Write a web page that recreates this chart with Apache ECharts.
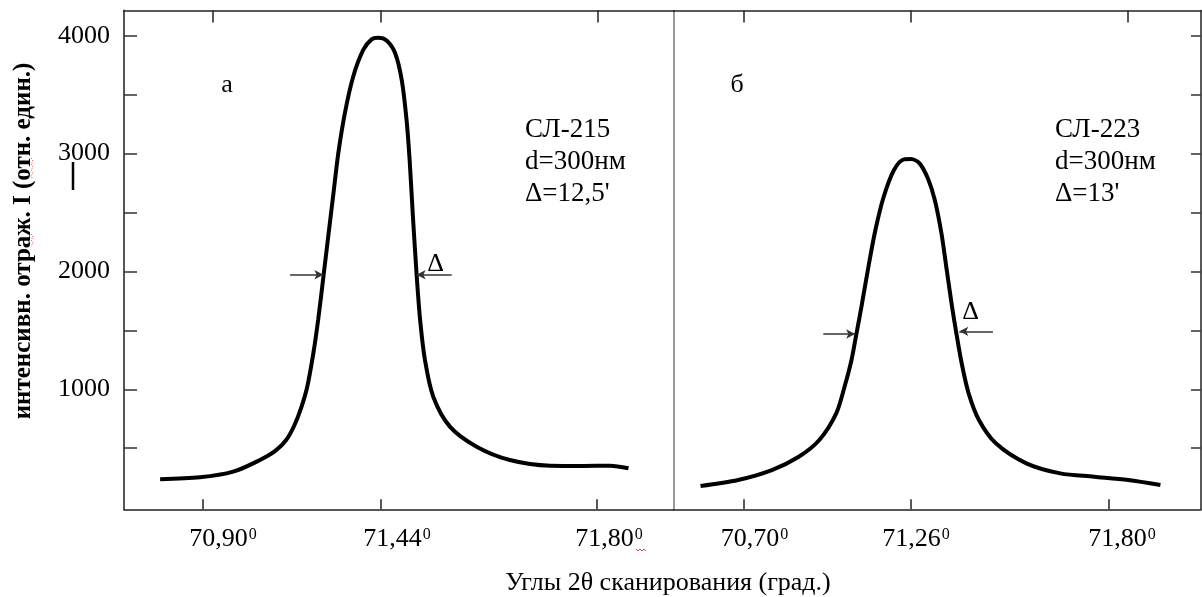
<!DOCTYPE html>
<html><head><meta charset="utf-8">
<script src="https://cdn.jsdelivr.net/npm/echarts@6/dist/echarts.min.js"></script>
<style>html,body{margin:0;padding:0;background:#fff}#c{width:1202px;height:597px}</style>
</head><body><div id="c"></div>
<script>
const FONT = '"Liberation Serif","Times New Roman",serif';

// ---- panel а (СЛ-215) ----
const xA = [70.802,70.893,70.969,71.030,71.065,71.090,71.108,71.124,71.138,71.152,71.163,71.175,71.186,71.198,71.209,71.224,71.243,71.266,71.285,71.300,71.320,71.339,71.354,71.365,71.372,71.380,71.388,71.396,71.407,71.426,71.464,71.525,71.601,71.693,71.769,71.830,71.872];
const yA = [237,253,301,400,477,570,689,841,1020,1305,1588,1955,2295,2663,3002,3342,3652,3879,3969,3983,3958,3851,3624,3285,2946,2436,1972,1588,1249,937,683,513,400,352,350,352,330];
// ---- panel б (СЛ-223) ----
const xB = [70.569,70.682,70.784,70.865,70.927,70.978,71.003,71.024,71.039,71.054,71.075,71.096,71.121,71.152,71.182,71.203,71.229,71.254,71.275,71.295,71.311,71.327,71.340,71.356,71.377,71.408,71.459,71.551,71.653,71.755,71.858,71.955];
const yB = [180,231,315,428,570,796,1022,1249,1475,1701,2040,2352,2634,2861,2951,2954,2917,2790,2606,2324,2012,1701,1475,1221,966,740,542,372,287,259,231,188];

// half-width arrows: [tail x, tip x, y]
const arrowsA = [[71.099,71.175,1972],[71.468,71.388,1972]];
const arrowsB = [[70.939,71.035,1469],[71.450,71.349,1492]];

// axis ticks / labels (the drawn scale is not uniform; positions follow the picture)
const xTicksA = [70.90, 71.3066, 71.80];
const xTopTicksA = [70.9228, 71.3066, 71.8023];
const xLabelPosA = [70.9457, 71.3432, 71.8274];
const xLabelsA = ['70,90','71,44','71,80'];
const xTicksB = [70.70, 71.2033, 71.80];
const xTopTicksB = [70.70, 71.2033, 71.8573];
const xLabelPosB = [70.7316, 71.2184, 71.8392];
const xLabelsB = ['70,70','71,26','71,80'];
const yTicks = [500,1000,1500,2000,2500,3000,3500,4000];
const yLabelVals = [1000,2000,3000,4000];

const Y_MIN = -18, Y_MAX = 4214;
const XA_MIN = 70.7195, XA_MAX = 71.9748;
const XB_MIN = 70.4875, XB_MAX = 72.0773;

function zip(xs, ys){ return xs.map((x,i)=>[x, ys[i]]); }
function nearest(arr, v){ let bi=0, bd=1e9; arr.forEach((a,i)=>{const d=Math.abs(a-v); if(d<bd){bd=d;bi=i;}}); return bi; }
function arrowLines(arr){ return arr.map(a=>[{coord:[a[0],a[2]]},{coord:[a[1],a[2]]}]); }

const richLbl = {
  n:{fontSize:26, fontFamily:FONT, color:'#000', lineHeight:26},
  s:{fontSize:16, fontFamily:FONT, color:'#000', lineHeight:16, verticalAlign:'top', padding:[0,0,0,1]}
};
const axisCol = '#222';
function bottomAxis(grid, min, max, ticks, lpos, labels){
  return {gridIndex:grid, type:'value', position:'bottom', min, max,
    axisLine:{onZero:false, lineStyle:{color:axisCol, width:1.5}},
    axisTick:{inside:true, length:10, customValues:ticks, lineStyle:{color:axisCol, width:1.5}},
    axisLabel:{customValues:lpos, margin:17, formatter:v=>'{n|'+labels[nearest(lpos,v)]+'}{s|0}', rich:richLbl},
    splitLine:{show:false}};
}
function topAxis(grid, min, max, ticks){
  return {gridIndex:grid, type:'value', position:'top', min, max,
    axisLine:{onZero:false, lineStyle:{color:axisCol, width:1.5}},
    axisTick:{inside:true, length:12, customValues:ticks, lineStyle:{color:axisCol, width:1.5}},
    axisLabel:{show:false}, splitLine:{show:false}};
}

const chart = echarts.init(document.getElementById('c'), null, {renderer:'canvas'});
const option = {
  animation:false,
  backgroundColor:'#fff',
  grid:[
    {left:124, top:10.5, width:549.5, height:498.8, outerBoundsMode:'none'},
    {left:673.5, top:10.5, width:527.5, height:498.8, outerBoundsMode:'none'}
  ],
  xAxis:[
    bottomAxis(0, XA_MIN, XA_MAX, xTicksA, xLabelPosA, xLabelsA),
    topAxis(0, XA_MIN, XA_MAX, xTopTicksA),
    bottomAxis(1, XB_MIN, XB_MAX, xTicksB, xLabelPosB, xLabelsB),
    topAxis(1, XB_MIN, XB_MAX, xTopTicksB)
  ],
  yAxis:[
    {gridIndex:0, type:'value', position:'left', min:Y_MIN, max:Y_MAX,
      axisLine:{show:true, onZero:false, lineStyle:{color:'#555', width:2}},
      axisTick:{show:true, inside:true, length:13, customValues:yTicks, lineStyle:{color:'#333', width:1.5}},
      axisLabel:{customValues:yLabelVals, margin:14, fontSize:26, fontFamily:FONT, color:'#000', formatter:v=>String(v)},
      splitLine:{show:false}},
    {gridIndex:1, type:'value', position:'left', min:Y_MIN, max:Y_MAX,
      axisLine:{show:true, onZero:false, lineStyle:{color:'#777', width:1.5}},
      axisTick:{show:false}, axisLabel:{show:false}, splitLine:{show:false}},
    {gridIndex:1, type:'value', position:'right', min:Y_MIN, max:Y_MAX,
      axisLine:{show:true, onZero:false, lineStyle:{color:axisCol, width:1.5}},
      axisTick:{show:true, inside:true, length:10, customValues:yTicks, lineStyle:{color:'#333', width:1.5}},
      axisLabel:{show:false}, splitLine:{show:false}}
  ],
  series:[
    {type:'line', xAxisIndex:0, yAxisIndex:0, data:zip(xA,yA), smooth:0.3, showSymbol:false,
      lineStyle:{color:'#000', width:4}, silent:true,
      markLine:{silent:true, symbol:['none','arrow'], symbolSize:[7,9], label:{show:false},
        lineStyle:{color:'#333', width:1.5, type:'solid'}, data:arrowLines(arrowsA)}},
    {type:'line', xAxisIndex:2, yAxisIndex:1, data:zip(xB,yB), smooth:0.3, showSymbol:false,
      lineStyle:{color:'#000', width:4}, silent:true,
      markLine:{silent:true, symbol:['none','arrow'], symbolSize:[7,9], label:{show:false},
        lineStyle:{color:'#333', width:1.5, type:'solid'}, data:arrowLines(arrowsB)}}
  ],
  graphic:[
    {type:'text', x:227, y:85, style:{text:'а', font:'26px '+FONT, fill:'#000', align:'center', verticalAlign:'middle'}},
    {type:'text', x:737, y:85, style:{text:'б', font:'26px '+FONT, fill:'#000', align:'center', verticalAlign:'middle'}},
    {type:'text', x:525, y:113.5, style:{text:'СЛ-215\nd=300нм\nΔ=12,5\'', font:'27px '+FONT, lineHeight:32, fill:'#000', align:'left', verticalAlign:'top'}},
    {type:'text', x:1055, y:113.5, style:{text:'СЛ-223\nd=300нм\nΔ=13\'', font:'27px '+FONT, lineHeight:32, fill:'#000', align:'left', verticalAlign:'top'}},
    {type:'text', x:435.5, y:264, style:{text:'Δ', font:'26px '+FONT, fill:'#000', align:'center', verticalAlign:'middle'}},
    {type:'text', x:970.5, y:312.5, style:{text:'Δ', font:'26px '+FONT, fill:'#000', align:'center', verticalAlign:'middle'}},
    {type:'text', x:24, y:241, rotation:Math.PI/2, style:{text:'интенсивн. отраж. I (отн. един.)', font:'bold 25px '+FONT, fill:'#000', align:'center', verticalAlign:'middle'}},
    {type:'text', x:668, y:583, style:{text:'Углы 2θ сканирования (град.)', font:'26px '+FONT, fill:'#000', align:'center', verticalAlign:'middle'}},
    {type:'line', shape:{x1:73, y1:162, x2:73, y2:190}, style:{stroke:'#000', lineWidth:2.5}},
    {type:'polyline', shape:{points:[[31,158],[33,161],[31,164],[33,167],[31,170],[33,173],[31,176],[33,179]]}, style:{stroke:'#e04040', lineWidth:1, lineDash:[1,1.5]}},
    {type:'polyline', shape:{points:[[31,234],[33,237],[31,240],[33,243],[31,246]]}, style:{stroke:'#e04040', lineWidth:1, lineDash:[1,1.5]}},
    {type:'polyline', shape:{points:[[636,549],[638,551],[640,549],[642,551],[644,549],[646,551]]}, style:{stroke:'#e04040', lineWidth:1}}
  ]
};
chart.setOption(option);
</script>
</body></html>
